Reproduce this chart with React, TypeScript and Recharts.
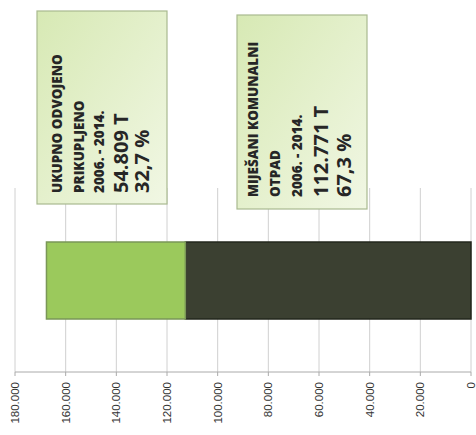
import React from "react";
import { BarChart, CartesianGrid, XAxis, YAxis, Bar, Customized } from "recharts";

// one stacked bar: separately collected vs mixed municipal waste, 2006-2014
const categories = ["2006. - 2014."];
const mixedWaste = [112771];
const separatedWaste = [54809];
const tickValues = [0, 20000, 40000, 60000, 80000, 100000, 120000, 140000, 160000, 180000];

const separatedLabel = ["UKUPNO ODVOJENO", "PRIKUPLJENO", "2006. - 2014.", "54.809 T", "32,7 %"];
const mixedLabel = ["MIJEŠANI KOMUNALNI", "OTPAD", "2006. - 2014.", "112.771 T", "67,3 %"];

const data = categories.map((name, i) => ({
  name,
  mixed: mixedWaste[i],
  separated: separatedWaste[i],
}));

const fmt = (v: number) => String(v).replace(/\B(?=(\d{3})+(?!\d))/g, ".");

const RotatedTick = (props: any) => {
  const { x, y, payload } = props;
  const ty = y + 4;
  return (
    <text
      x={x}
      y={ty}
      transform={`rotate(-90 ${x} ${ty})`}
      dy={4}
      textAnchor="end"
      fontFamily="'Liberation Sans', Arial, sans-serif"
      fontSize={11.5}
      fill="#333"
    >
      {fmt(payload.value)}
    </text>
  );
};

// rotated callout box, text reads bottom to top
const Callout = ({ x, y, w, h, lines, cols, startY }: any) => (
  <g>
    <rect x={x} y={y} width={w} height={h} fill="url(#boxFill)" stroke="#a9b98f" strokeWidth={1.2} />
    {lines.map((t: string, i: number) => {
      const big = i >= 3;
      return (
        <text
          key={i}
          transform={`translate(${cols[i]},${startY}) rotate(-90)`}
          fontFamily="'Open Sans', sans-serif"
          fontWeight={big ? 700 : 800}
          fontSize={big ? 20 : 13.5}
          fill="#262626"
          dominantBaseline="central"
        >
          {t}
        </text>
      );
    })}
  </g>
);

const Annotations = () => (
  <g>
    <defs>
      <linearGradient id="boxFill" x1="0" y1="0" x2="1" y2="1">
        <stop offset="0%" stopColor="#d7e9b4" />
        <stop offset="100%" stopColor="#f1f7e4" />
      </linearGradient>
    </defs>
    <Callout x={37} y={11} w={130} h={193} lines={separatedLabel} cols={[57, 79, 99, 120, 141]} startY={193} />
    <Callout x={237} y={15} w={130} h={194} lines={mixedLabel} cols={[253, 275, 297, 320, 343]} startY={197} />
  </g>
);

export default function App() {
  return (
    <div style={{ position: "absolute", left: 0, top: 0, background: "#fff" }}>
      <BarChart
        width={476}
        height={435}
        data={data}
        layout="vertical"
        margin={{ top: 188, right: 5, left: 15, bottom: 3 }}
      >
        <CartesianGrid horizontal={false} stroke="#c4c4c4" strokeWidth={0.8} />
        <XAxis
          type="number"
          domain={[0, 180000]}
          ticks={tickValues}
          reversed
          interval={0}
          height={60}
          tick={RotatedTick}
          tickSize={4}
          stroke="#aaa"
        />
        <YAxis type="category" dataKey="name" hide />
        <Bar dataKey="mixed" stackId="a" fill="#3b4031" stroke="#23271d" strokeWidth={1.5} barSize={77} isAnimationActive={false} />
        <Bar dataKey="separated" stackId="a" fill="#9bc95c" stroke="#7a9757" strokeWidth={1.5} barSize={77} isAnimationActive={false} />
        <Customized component={Annotations} />
      </BarChart>
    </div>
  );
}
